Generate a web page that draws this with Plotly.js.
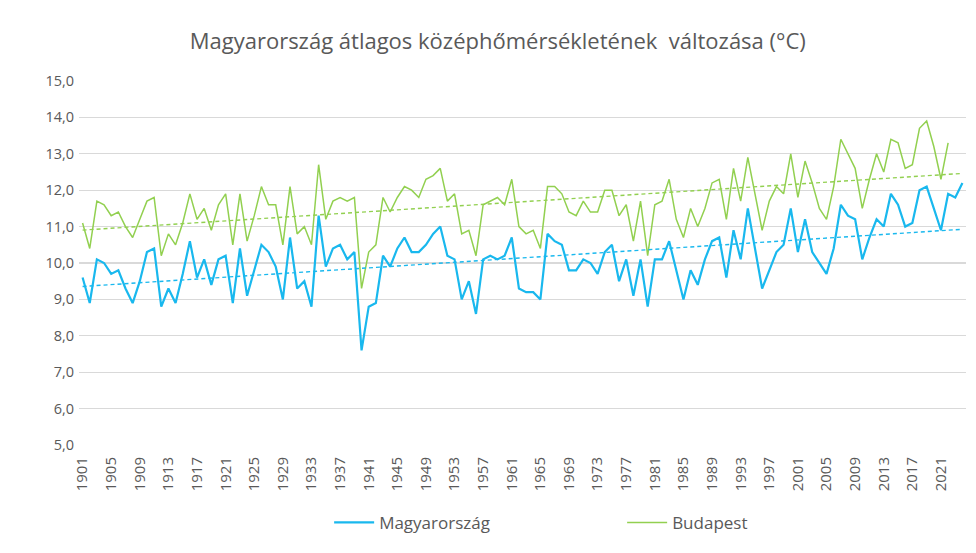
<!DOCTYPE html>
<html>
<head>
<meta charset="utf-8">
<script src="https://cdn.plot.ly/plotly-3.0.1.min.js"></script>
<style>html,body{margin:0;padding:0;background:#fff;}#chart{width:976px;height:553px;}</style>
</head>
<body>
<div id="chart"></div>
<script>
// Years
const firstYear = 1901;
const lastYear = 2024;

// Magyarország annual mean temperature (°C), 1901–2024
const magyarorszag = [
  9.6, 8.9, 10.1, 10.0, 9.7, 9.8, 9.3, 8.9, 9.5, 10.3,
  10.4, 8.8, 9.3, 8.9, 9.7, 10.6, 9.6, 10.1, 9.4, 10.1,
  10.2, 8.9, 10.4, 9.1, 9.8, 10.5, 10.3, 9.9, 9.0, 10.7,
  9.3, 9.5, 8.8, 11.3, 9.9, 10.4, 10.5, 10.1, 10.3, 7.6,
  8.8, 8.9, 10.2, 9.9, 10.4, 10.7, 10.3, 10.3, 10.5, 10.8,
  11.0, 10.2, 10.1, 9.0, 9.5, 8.6, 10.1, 10.2, 10.1, 10.2,
  10.7, 9.3, 9.2, 9.2, 9.0, 10.8, 10.6, 10.5, 9.8, 9.8,
  10.1, 10.0, 9.7, 10.3, 10.5, 9.5, 10.1, 9.1, 10.1, 8.8,
  10.1, 10.1, 10.6, 9.8, 9.0, 9.8, 9.4, 10.1, 10.6, 10.7,
  9.6, 10.9, 10.1, 11.5, 10.4, 9.3, 9.8, 10.3, 10.5, 11.5,
  10.3, 11.2, 10.3, 10.0, 9.7, 10.4, 11.6, 11.3, 11.2, 10.1,
  10.7, 11.2, 11.0, 11.9, 11.6, 11.0, 11.1, 12.0, 12.1, 11.5,
  10.9, 11.9, 11.8, 12.2
];

// Budapest annual mean temperature (°C), 1901–2022
const budapest = [
  11.1, 10.4, 11.7, 11.6, 11.3, 11.4, 11.0, 10.7, 11.2, 11.7,
  11.8, 10.2, 10.8, 10.5, 11.1, 11.9, 11.2, 11.5, 10.9, 11.6,
  11.9, 10.5, 11.9, 10.6, 11.3, 12.1, 11.6, 11.6, 10.5, 12.1,
  10.8, 11.0, 10.5, 12.7, 11.2, 11.7, 11.8, 11.7, 11.8, 9.3,
  10.3, 10.5, 11.8, 11.4, 11.8, 12.1, 12.0, 11.8, 12.3, 12.4,
  12.6, 11.7, 11.9, 10.8, 10.9, 10.2, 11.6, 11.7, 11.8, 11.6,
  12.3, 11.0, 10.8, 10.9, 10.4, 12.1, 12.1, 11.9, 11.4, 11.3,
  11.7, 11.4, 11.4, 12.0, 12.0, 11.3, 11.6, 10.6, 11.7, 10.2,
  11.6, 11.7, 12.3, 11.2, 10.7, 11.5, 11.0, 11.5, 12.2, 12.3,
  11.2, 12.6, 11.7, 12.9, 11.9, 10.9, 11.7, 12.1, 11.9, 13.0,
  11.8, 12.8, 12.2, 11.5, 11.2, 12.1, 13.4, 13.0, 12.6, 11.5,
  12.3, 13.0, 12.5, 13.4, 13.3, 12.6, 12.7, 13.7, 13.9, 13.2,
  12.3, 13.3
];

const seriesNames = ["Magyarország", "Budapest"];
const titleText = "Magyarország átlagos középhőmérsékletének  változása (°C)";

const years = [];
for (let y = firstYear; y <= lastYear; y++) years.push(y);
const tickYears = years.filter(y => (y - firstYear) % 4 === 0 && y <= 2021);

function linFit(vals) {
  const n = vals.length;
  let sx = 0, sy = 0, sxx = 0, sxy = 0;
  for (let i = 0; i < n; i++) { sx += i; sy += vals[i]; sxx += i * i; sxy += i * vals[i]; }
  const b = (n * sxy - sx * sy) / (n * sxx - sx * sx);
  const a = (sy - b * sx) / n;
  return years.map((_, i) => a + b * i);
}

const blue = '#19B8EE';
const green = '#92D050';
const txt = '#595959';
const font = 'Open Sans, Noto Sans, sans-serif';

const traces = [
  {x: years.slice(0, magyarorszag.length), y: magyarorszag, name: seriesNames[0], type: 'scatter', mode: 'lines',
   line: {color: blue, width: 2.2}},
  {x: years.slice(0, budapest.length), y: budapest, name: seriesNames[1], type: 'scatter', mode: 'lines',
   line: {color: green, width: 1.5}},
  {x: years, y: linFit(magyarorszag), type: 'scatter', mode: 'lines', showlegend: false, hoverinfo: 'skip',
   line: {color: blue, width: 1.4, dash: '4px,3px'}},
  {x: years, y: linFit(budapest), type: 'scatter', mode: 'lines', showlegend: false, hoverinfo: 'skip',
   line: {color: green, width: 1.4, dash: '4px,3px'}}
];

const layout = {
  width: 976, height: 553,
  margin: {l: 79, r: 10, t: 81, b: 108},
  paper_bgcolor: '#fff', plot_bgcolor: '#fff',
  separators: ',.',
  font: {family: font, color: txt, size: 14},
  title: {text: titleText, font: {family: font, size: 22, color: txt}, x: 0.51, xanchor: 'center', y: 0.925, yanchor: 'middle'},
  xaxis: {
    range: [firstYear - 0.5, lastYear + 0.5],
    tickmode: 'array', tickvals: tickYears, ticktext: tickYears.map(String),
    tickangle: -90, tickfont: {size: 15, color: txt, family: font},
    showgrid: false, zeroline: false, showline: false, ticks: '', ticklabelstandoff: 8, fixedrange: true
  },
  yaxis: {
    range: [5, 15], dtick: 1, tick0: 5, tickformat: '.1f',
    tickfont: {size: 14.5, color: txt, family: font},
    showgrid: true, gridcolor: '#D9D9D9', gridwidth: 1.3,
    zeroline: false, showline: false, ticks: '', ticklabelstandoff: 4, fixedrange: true
  },
  showlegend: true,
  legend: {orientation: 'h', x: 0.282, xanchor: 'left', y: -0.214, yanchor: 'middle',
    font: {size: 17, color: txt, family: font}, entrywidth: 238, itemwidth: 40},
  hovermode: false
};

Plotly.newPlot('chart', traces, layout, {displayModeBar: false, staticPlot: true});
</script>
</body>
</html>
